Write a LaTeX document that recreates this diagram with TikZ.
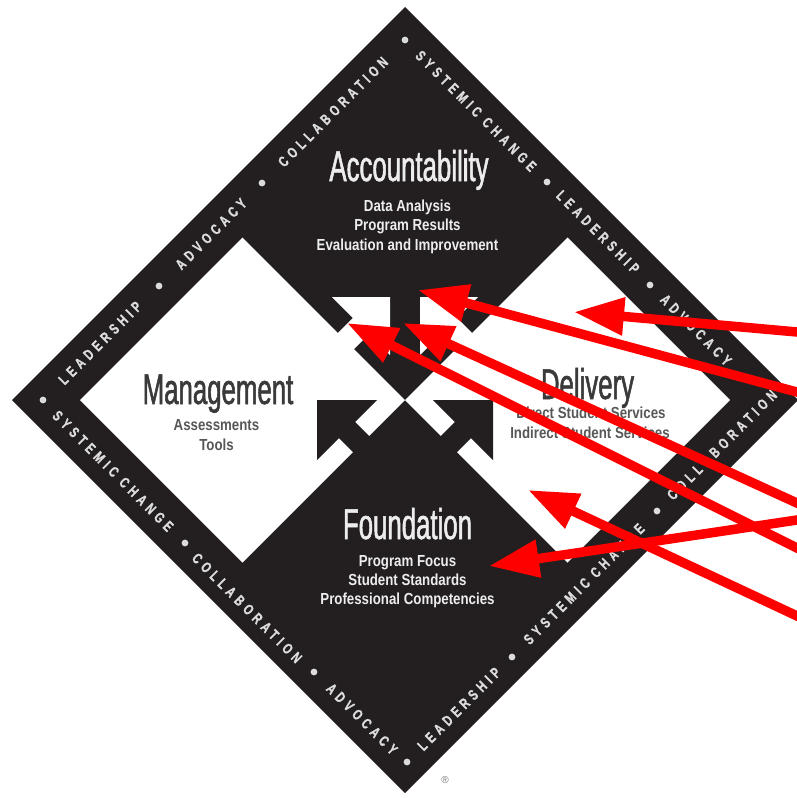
\documentclass[tikz,border=0pt]{standalone}
\usepackage{fontspec}
\setmainfont{Liberation Sans}
\newfontfamily\titlef[FakeStretch=0.6,FakeBold=1.2]{Liberation Sans}
\newfontfamily\subf[FakeStretch=0.83]{Liberation Sans}
\newfontfamily\bandf[FakeStretch=0.72,LetterSpace=30,FakeBold=1]{Liberation Sans}
\usetikzlibrary{arrows.meta}
\definecolor{ink}{HTML}{231F20}
\definecolor{lighttext}{HTML}{EDEDED}
\definecolor{darktext}{HTML}{3A3A3A}
\definecolor{bandtext}{HTML}{DCDCDC}
\definecolor{arrowred}{HTML}{FF0000}
\begin{document}
\begin{tikzpicture}[x=1pt,y=-1pt,
  blackfill/.style={fill=ink,draw=none},
  whitefill/.style={fill=white,draw=none},
  titleon/.style={font=\titlef\fontsize{43}{43}\selectfont,text=lighttext,inner sep=0pt,anchor=base},
  titleoff/.style={font=\titlef\fontsize{43}{43}\selectfont,text=darktext,inner sep=0pt,anchor=base},
  subon/.style={font=\subf\bfseries\fontsize{16}{19}\selectfont,text=lighttext,inner sep=0pt,anchor=base},
  suboff/.style={font=\subf\bfseries\fontsize{16}{19}\selectfont,text=darktext!85,inner sep=0pt,anchor=base},
  bandword/.style={font=\bandf\bfseries\fontsize{15}{15}\selectfont,text=bandtext,inner sep=0pt},
  banddot/.style={fill=bandtext,draw=none},
  redarrow/.style={draw=arrowred,line width=9.5pt,-{Triangle[length=50pt,width=36pt]}},
]
\useasboundingbox (0,0) rectangle (797,798);
\clip (0,0) rectangle (797,798);
\fill[white] (0,0) rectangle (797,798);

% outer diamond
\fill[blackfill] (405,7) -- (798,400) -- (405,793) -- (12,400) -- cycle;
% white quadrants
\fill[whitefill] (405,400) -- (242.5,237.5) -- (80,400) -- (242.5,562.5) -- cycle;
\fill[whitefill] (405,400) -- (567.5,237.5) -- (730,400) -- (567.5,562.5) -- cycle;

% white arrows into Accountability
\fill[whitefill] (390,297) -- (390,355) -- (369.1,334.1) -- (329.1,374.1) -- (312.9,357.9) -- (352.9,317.9) -- (332,297) -- cycle;
\fill[whitefill] (420,297) -- (420,355) -- (440.9,334.1) -- (480.9,374.1) -- (497.1,357.9) -- (457.1,317.9) -- (478,297) -- cycle;
% black arrows from Foundation
\fill[blackfill] (317,400) -- (377,400) -- (355.1,421.9) -- (395.1,461.9) -- (378.9,478.1) -- (338.9,438.1) -- (317,460) -- cycle;
\fill[blackfill] (493,400) -- (433,400) -- (454.9,421.9) -- (414.9,461.9) -- (431.1,478.1) -- (471.1,438.1) -- (493,460) -- cycle;

% quadrant texts
\node[titleon] (acc) at (409,181) {Accountability};
\node[subon] (acc1) at (407.5,211) {Data Analysis};
\node[subon] (acc2) at (407.5,230.5) {Program Results};
\node[subon] (acc3) at (407.5,250) {Evaluation and Improvement};

\node[titleoff] (man) at (218,404) {Management};
\node[suboff] (man1) at (216.5,430) {Assessments};
\node[suboff] (man2) at (216.5,450) {Tools};

\node[titleoff] (del) at (587.5,399) {Delivery};
\node[suboff] (del1) at (591,418) {Direct Student Services};
\node[suboff] (del2) at (590,438) {Indirect Student Services};

\node[titleon] (fou) at (407.5,539) {Foundation};
\node[subon] (fou1) at (407.5,566) {Program Focus};
\node[subon] (fou2) at (407.5,585) {Student Standards};
\node[subon] (fou3) at (407.5,604) {Professional Competencies};

% band words
\node[bandword,rotate=45] (ul1) at (100,343) {LEADERSHIP};
\node[bandword,rotate=45] (ul2) at (211,234) {ADVOCACY};
\node[bandword,rotate=45] (ul3) at (333,112) {COLLABORATION};
\node[bandword,rotate=-45] (ur1) at (476,111) {SYSTEMIC CHANGE};
\node[bandword,rotate=-45] (ur2) at (598,232) {LEADERSHIP};
\node[bandword,rotate=-45] (ur3) at (696,330) {ADVOCACY};
\node[bandword,rotate=45] (lr1) at (459,709) {LEADERSHIP};
\node[bandword,rotate=45] (lr2) at (584,584) {SYSTEMIC CHANGE};
\node[bandword,rotate=45] (lr3) at (722,445) {COLLABORATION};
\node[bandword,rotate=-45] (ll1) at (113,471) {SYSTEMIC CHANGE};
\node[bandword,rotate=-45] (ll2) at (247,608) {COLLABORATION};
\node[bandword,rotate=-45] (ll3) at (362,719) {ADVOCACY};

% band dots
\foreach \p in {(43,400),(159,286),(262,183),(405,40),(547,182),(650,285),(742,377),(512,657),(657,511),(407,762),(185,543),(314,672)}
  \fill[banddot] \p circle (3.4);

\node[font=\fontsize{10}{10}\selectfont,text=darktext!70,inner sep=0pt] (reg) at (445,780) {®};

% red arrows
\coordinate (ta) at (805,332.7); \coordinate (ha) at (574,312);
\coordinate (tb) at (805,394.2); \coordinate (hb) at (418,290);
\coordinate (tc) at (805,552);   \coordinate (hc) at (347,323);
\coordinate (td) at (805,506.7); \coordinate (hd) at (403,323);
\coordinate (te) at (805,619.7); \coordinate (he) at (528,490);
\coordinate (tf) at (805,518.8); \coordinate (hf) at (489,566);
\draw[redarrow] (ta) -- (ha);
\draw[redarrow] (tb) -- (hb);
\draw[redarrow] (tc) -- (hc);
\draw[redarrow] (td) -- (hd);
\draw[redarrow] (te) -- (he);
\draw[redarrow] (tf) -- (hf);
\end{tikzpicture}
\end{document}
